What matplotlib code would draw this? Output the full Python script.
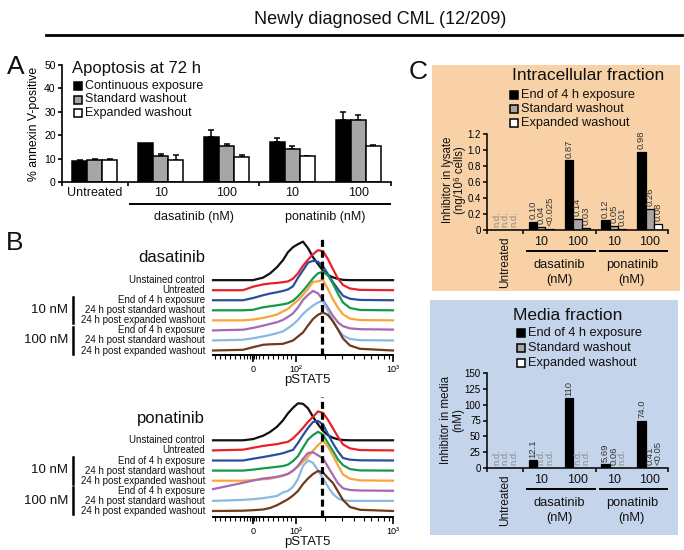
import numpy as np
import matplotlib
matplotlib.use("Agg")
import matplotlib.pyplot as plt
from matplotlib.patches import Rectangle
from matplotlib.lines import Line2D

plt.rcParams['font.family'] = ['Liberation Sans', 'DejaVu Sans']
plt.rcParams['text.color'] = '#111111'

# ---------------- data ----------------
# panel A: % annexin V-positive at 72 h
a_groups = ["Untreated", "10", "100", "10", "100"]
a_series = ["Continuous exposure", "Standard washout", "Expanded washout"]
a_continuous = [8.8, 16.7, 19.4, 17.0, 26.5]
a_continuous_err = [0.8, 0.0, 2.8, 1.7, 3.5]
a_standard = [9.4, 11.3, 15.2, 14.2, 26.5]
a_standard_err = [0.3, 0.6, 1.1, 1.3, 2.1]
a_expanded = [9.5, 9.4, 10.7, 11.1, 15.3]
a_expanded_err = [0.4, 2.1, 1.0, 0.2, 0.3]
drugs = ["dasatinib", "ponatinib"]

# panel B: pSTAT5 histograms (channel position vs. relative count)
pstat5_channel = [0, 30, 40, 50, 57, 64, 70, 75, 80, 85, 90, 95, 100, 105,
                  110, 115, 120, 125, 130, 137, 147, 180]
pstat5_ticks = [40, 83, 180]
pstat5_ticklabels = ["0", "10²", "10³"]
pstat5_minor = [2, 7, 12, 17, 22, 27, 31, 34, 37, 39, 41, 43, 46, 50, 55, 60,
                65, 70, 74, 78, 112, 129, 141, 151, 158, 165, 171, 176]
pstat5_reference = 109
hist_labels = ["Unstained control", "Untreated", "End of 4 h exposure",
               "24 h post standard washout", "24 h post expanded washout",
               "End of 4 h exposure", "24 h post standard washout",
               "24 h post expanded washout"]
hist_conc = ["10 nM", "100 nM"]
hist_colors = ['#111111', '#e8202a', '#2a4f9e', '#149a48', '#f7a53a',
               '#a768b4', '#88b8e3', '#6e3b1c']

das_unstained = [0, 0, 0, 2.5, 6.7, 13, 20, 28, 33, 36, 38.5, 32, 23, 16, 9.5, 5, 2.8, 1.2, 0.3, 0, 0, 0]
das_untreated = [0, 0, 3.5, 5.8, 6.7, 7.3, 8, 8.8, 11.5, 17, 24.5, 30.5, 36, 40, 39, 31, 21, 11.5, 5.2, 1.7, 0.3, 0]
das_end10 = [0, 0, 2.2, 5, 6.7, 8, 9.3, 10.8, 14, 22.5, 30, 37.5, 39.5, 38.5, 34, 26, 18, 11, 4.5, 1.5, 0.3, 0]
das_std10 = [0, 0, 0.5, 3, 4, 5, 6, 7, 9.5, 14, 19.5, 25.5, 32, 37, 38.5, 35, 26.5, 16.5, 7.8, 2.3, 0.3, 0]
das_exp10 = [0, 0, 0.8, 2.4, 4, 5.8, 9, 11.5, 16, 20, 25.5, 31.5, 38.5, 39, 40.5, 31, 21, 12.5, 6, 1.7, 0.3, 0]
das_end100 = [0, 0.7, 2.5, 4.7, 6.5, 8.2, 10.5, 13.5, 17, 23, 30.5, 35.5, 39.5, 37, 30.5, 22.5, 14.5, 8, 4.2, 2, 1.2, 0.8]
das_std100 = [0, 0.7, 2.2, 4, 5.5, 7.3, 9, 12.3, 16, 20.5, 26.5, 31, 34.8, 38, 39.5, 29.7, 19.7, 10.8, 5, 1.5, 0.3, 0]
das_exp100 = [0, 0.7, 3.3, 5.7, 6.2, 6.4, 6.7, 8.3, 10, 14, 18, 25, 31.5, 35.7, 38, 35.5, 29, 21, 12, 5, 1.7, 0]

pon_unstained = [0, 0, 1.2, 4.5, 8.3, 13.5, 20, 27, 32.5, 37, 36.5, 32, 23.5, 16, 9.5, 5, 2.5, 1, 0.3, 0, 0, 0]
pon_untreated = [0, 0.7, 2.6, 4.5, 5.4, 6.3, 7.6, 8.6, 12, 17, 22.5, 28.5, 33.5, 39, 37.5, 30.5, 22, 13.5, 6, 2, 0.3, 0]
pon_end10 = [0, 0, 1.8, 3.4, 4.7, 6, 7.3, 9, 10.6, 17.5, 25.3, 32.5, 38.5, 39.5, 36, 26.3, 17, 9, 2.5, 0.8, 0.2, 0]
pon_std10 = [0, 0, 1, 2.2, 3, 3.8, 4.5, 6, 9.5, 14.5, 23, 31, 35.5, 38.8, 36, 27.5, 19.5, 11, 5.5, 1.5, 0.2, 0]
pon_exp10 = [0, 0, 0.6, 1.4, 2, 3.5, 4.8, 7, 10.3, 14, 19, 24, 30, 35.5, 39.8, 34, 25, 15.3, 6.3, 2, 0.3, 0]
pon_end100 = [1.7, 8, 10.2, 12.3, 13, 14, 15.5, 16.8, 20, 25, 32, 37.8, 38.5, 35.5, 32.5, 24, 15.5, 7.5, 2.5, 0.8, 0.3, 0]
pon_std100 = [0, 1, 1.7, 2.7, 3.8, 5, 8.5, 10, 14, 22, 35, 40.5, 38, 30.5, 22.5, 14, 7, 2.5, 0.5, 0, 0, 0]
pon_exp100 = [0, 0.3, 0.8, 1.5, 3, 5.8, 9, 11.8, 15.5, 20, 27, 32.5, 37, 40, 38.5, 33, 28, 19.5, 11, 4, 1.2, 0]

# panel C: inhibitor levels
c_groups = ["Untreated", "10", "100", "10", "100"]
c_series = ["End of 4 h exposure", "Standard washout", "Expanded washout"]
lysate_end = [0, 0.10, 0.87, 0.12, 0.98]
lysate_std = [0, 0.04, 0.14, 0.05, 0.26]
lysate_exp = [0, 0.01, 0.03, 0.01, 0.08]
lysate_end_lbl = ["n.d.", "0.10", "0.87", "0.12", "0.98"]
lysate_std_lbl = ["n.d.", "0.04", "0.14", "0.05", "0.26"]
lysate_exp_lbl = ["n.d.", "<0.025", "0.03", "0.01", "0.08"]
lysate_ticks = [0, 0.2, 0.4, 0.6, 0.8, 1.0, 1.2]
lysate_ticklabels = ["0", "0.2", "0.4", "0.6", "0.8", "1.0", "1.2"]
media_end = [0, 12.1, 110, 5.69, 74.0]
media_std = [0, 0, 0, 0.06, 0.41]
media_exp = [0, 0, 0, 0, 0.05]
media_end_lbl = ["n.d.", "12.1", "110", "5.69", "74.0"]
media_std_lbl = ["n.d.", "n.d.", "n.d.", "0.06", "0.41"]
media_exp_lbl = ["n.d.", "n.d.", "n.d.", "n.d.", "<0.05"]
media_ticks = [0, 25, 50, 75, 100, 125, 150]

bar_colors = ['black', '#a6a6a6', 'white']

# ---------------- figure helpers (pixel coords, origin top-left) ----------------
W, H = 684, 550
fig = plt.figure(figsize=(W / 100, H / 100), dpi=100)


def px_axes(left, top, width, height):
    ax = fig.add_axes([left / W, 1 - (top + height) / H, width / W, height / H])
    ax.patch.set_alpha(0)
    return ax


def ftext(x, y, s, **kw):
    return fig.text(x / W, 1 - y / H, s, **kw)


def fline(x0, x1, y, lw):
    fig.add_artist(Line2D([x0 / W, x1 / W], [1 - y / H, 1 - y / H],
                          transform=fig.transFigure, color='black', lw=lw))


def fbox(x0, y0, x1, y1, color):
    fig.add_artist(Rectangle((x0 / W, 1 - y1 / H), (x1 - x0) / W, (y1 - y0) / H,
                             transform=fig.transFigure, facecolor=color,
                             edgecolor='none', zorder=-1))


def legend_rows(x, y0, dy, labels, colors, fs):
    for i, (lab, col) in enumerate(zip(labels, colors)):
        y = y0 + i * dy
        fig.add_artist(Rectangle((x / W, 1 - (y + 4) / H), 8 / W, 8 / H,
                                 transform=fig.transFigure, facecolor=col,
                                 edgecolor='black', lw=1.1))
        ftext(x + 11, y, lab, fontsize=fs, va='center', ha='left')


# title
ftext(380, 20, "Newly diagnosed CML (12/209)", fontsize=13, ha='center', va='center')
fline(46, 682, 35, 2)

ftext(16, 67, "A", fontsize=19, ha='center', va='center')
ftext(15, 243, "B", fontsize=19, ha='center', va='center')
ftext(418, 72, "C", fontsize=19, ha='center', va='center')

# ---------------- panel A ----------------
axA = px_axes(62, 65, 329, 117)
xa = np.arange(len(a_groups))
bw = 0.228
for k, (vals, errs) in enumerate([(a_continuous, a_continuous_err),
                                  (a_standard, a_standard_err),
                                  (a_expanded, a_expanded_err)]):
    pos = xa + (k - 1) * bw
    vals = np.array(vals)
    errs = np.array(errs)
    axA.bar(pos, vals, bw, color=bar_colors[k], edgecolor='black', lw=1.1, zorder=2)
    keep = errs > 0
    axA.errorbar(pos[keep], vals[keep], yerr=[np.zeros(keep.sum()), errs[keep]],
                 fmt='none', ecolor='black', elinewidth=1.1, capsize=2.5,
                 capthick=1.1, zorder=1)

axA.set_xlim(-0.5, 4.5)
axA.set_ylim(0, 50)
axA.set_yticks(range(0, 51, 10))
axA.set_xticks([-0.5, 0.5, 2.5, 4.5])
axA.set_xticklabels([])
axA.spines[['top', 'right']].set_visible(False)
axA.spines[['left', 'bottom']].set_linewidth(1.2)
axA.tick_params(length=3, width=1.2, labelsize=7.5, pad=1.5)
axA.set_ylabel("% annexin V-positive", fontsize=8.8, labelpad=3)

trA = axA.get_xaxis_transform()
hA = 117
for i, g in enumerate(a_groups):
    axA.text(i, -11 / hA, g, transform=trA, ha='center', va='center', fontsize=9)
for j, drug in enumerate(drugs):
    first, last = 1 + 2 * j, 2 + 2 * j
    axA.plot([first - 0.47, last + 0.49], [-22 / hA] * 2, transform=trA,
             color='black', lw=1.4, clip_on=False)
    axA.text((first + last) / 2, -35 / hA, drug + " (nM)", transform=trA,
             ha='center', va='center', fontsize=9)

ftext(72, 68, "Apoptosis at 72 h", fontsize=12, va='center', ha='left')
legend_rows(74, 86, 13.5, a_series, bar_colors, 9)


# ---------------- panel B ----------------
def hist_panel(axis_y, curves, drug, base, spacing, top):
    ax = px_axes(213, axis_y - 122, 180, 122)
    ax.set_xlim(0, 180)
    ax.set_ylim(0, 122)
    offsets = [base + spacing * (7 - k) for k in range(8)]
    for k, (h, col) in enumerate(zip(curves, hist_colors)):
        ax.plot(pstat5_channel, offsets[k] + np.array(h), color=col, lw=1.6,
                zorder=2 + k, solid_joinstyle='round', clip_on=False)
        ax.text(-8, offsets[k], hist_labels[k], ha='right', va='center',
                fontsize=7, clip_on=False)
    ax.plot([pstat5_reference] * 2, [0, top], color='black', lw=2.3,
            dashes=(2.2, 1.2), zorder=20, clip_on=False)
    for conc, (r0, r1) in zip(hist_conc, [(2, 4), (5, 7)]):
        lo, hi = offsets[r1] - 3, offsets[r0] + 3.5
        ax.plot([-140, -140], [lo, hi], color='black', lw=1.8, clip_on=False)
        ax.text(-145, (lo + hi) / 2, conc, ha='right', va='center', fontsize=9.5)
    ax.text(-8, 98, drug, ha='right', va='center', fontsize=12)
    ax.text(94, -25, "pSTAT5", ha='center', va='center', fontsize=9.5)

    ax.spines[['top', 'right', 'left']].set_visible(False)
    ax.spines['bottom'].set_linewidth(1.4)
    ax.set_yticks([])
    ax.set_xticks(pstat5_ticks, pstat5_ticklabels)
    ax.set_xticks(pstat5_minor, minor=True)
    ax.tick_params(axis='x', which='major', length=5, width=1.2, labelsize=6.5, pad=2)
    ax.tick_params(axis='x', which='minor', length=3, width=0.8)
    return ax


hist_panel(355, [das_unstained, das_untreated, das_end10, das_std10, das_exp10,
                 das_end100, das_std100, das_exp100], drugs[0], 4.5, 10.05, 117)
hist_panel(517, [pon_unstained, pon_untreated, pon_end10, pon_std10, pon_exp10,
                 pon_end100, pon_std100, pon_exp100], drugs[1], 6, 10.1, 120)

# ---------------- panel C ----------------
fbox(432, 65, 680, 291, '#f8d2a6')
fbox(430, 300, 678, 535, '#c4d4ea')


def conc_panel(top, height, ymax, ticks, ticklabels, values, labels):
    ax = px_axes(487, top, 181, height)
    xc = np.arange(len(c_groups))
    w = 0.23
    for k, (vals, lbls) in enumerate(zip(values, labels)):
        pos = xc + (k - 1) * w
        ax.bar(pos, vals, w, color=bar_colors[k], edgecolor='black', lw=0.9, zorder=2)
        for p, v, s in zip(pos, vals, lbls):
            ax.annotate(s, (p, v), xytext=(0, 2), textcoords='offset points',
                        rotation=90, ha='center', va='bottom', fontsize=6.8,
                        color='#8a8a8a' if s == "n.d." else '#333333')
    ax.set_xlim(-0.5, 4.5)
    ax.set_ylim(0, ymax)
    ax.set_yticks(ticks, ticklabels)
    ax.set_xticks([-0.5, 0.5, 2.5, 4.5])
    ax.set_xticklabels([])
    ax.spines[['top', 'right']].set_visible(False)
    ax.spines[['left', 'bottom']].set_linewidth(1.1)
    ax.tick_params(length=3, width=1.1, labelsize=7, pad=1.5)

    tr = ax.get_xaxis_transform()
    ax.text(0, -7 / height, c_groups[0], transform=tr, rotation=90,
            ha='center', va='top', fontsize=8.5)
    for i in range(1, len(c_groups)):
        ax.text(i, -12 / height, c_groups[i], transform=tr, ha='center',
                va='center', fontsize=9)
    for j, drug in enumerate(drugs):
        first, last = 1 + 2 * j, 2 + 2 * j
        ax.plot([first - 0.39, last + 0.47], [-21 / height] * 2, transform=tr,
                color='black', lw=1.4, clip_on=False)
        ax.text((first + last) / 2, -35 / height, drug, transform=tr,
                ha='center', va='center', fontsize=9.3)
        ax.text((first + last) / 2, -50 / height, "(nM)", transform=tr,
                ha='center', va='center', fontsize=9.3)
    return ax


conc_panel(134, 96, 1.2, lysate_ticks, lysate_ticklabels,
           [lysate_end, lysate_std, lysate_exp],
           [lysate_end_lbl, lysate_std_lbl, lysate_exp_lbl])
conc_panel(373, 95, 150, media_ticks, [str(t) for t in media_ticks],
           [media_end, media_std, media_exp],
           [media_end_lbl, media_std_lbl, media_exp_lbl])

ftext(454, 180, "Inhibitor in lysate\n(ng/10⁶ cells)", rotation=90, ha='center',
      va='center', fontsize=8.3, linespacing=0.95)
ftext(452, 420, "Inhibitor in media\n(nM)", rotation=90, ha='center',
      va='center', fontsize=8.3, linespacing=0.95)

ftext(588, 75, "Intracellular fraction", fontsize=12.5, ha='center', va='center')
legend_rows(510, 95, 14.2, c_series, bar_colors, 9.2)
ftext(568, 315, "Media fraction", fontsize=12.5, ha='center', va='center')
legend_rows(517, 333, 15, c_series, bar_colors, 9.2)

fig.savefig("out.png", dpi=100)
